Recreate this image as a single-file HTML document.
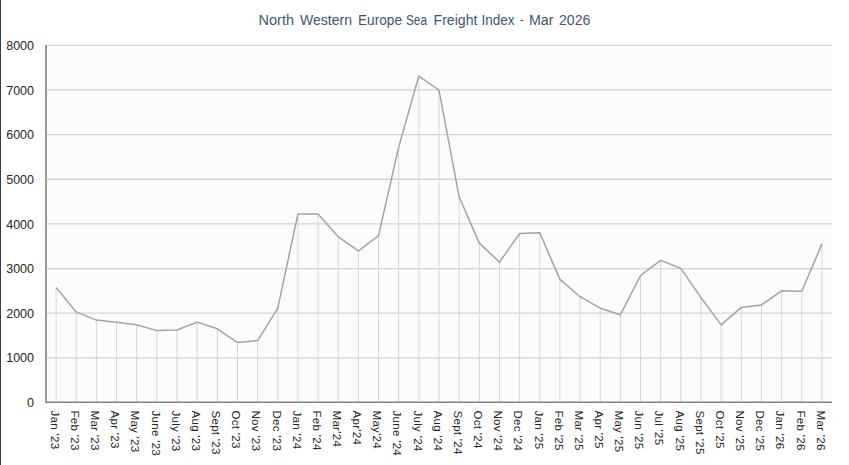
<!DOCTYPE html>
<html><head><meta charset="utf-8"><style>
html,body{margin:0;padding:0;background:#fff;}
body{width:849px;height:465px;overflow:hidden;position:relative;}
svg{position:absolute;left:0;top:0;}
.yl{font-family:"Liberation Sans",sans-serif;font-size:12.5px;fill:#262626;}
.xl{font-family:"Liberation Sans",sans-serif;font-size:11.5px;fill:#262626;letter-spacing:0.3px;}
.tt{font-family:"Liberation Sans",sans-serif;font-size:14px;fill:#44546a;}
</style></head><body>
<svg width="849" height="465" viewBox="0 0 849 465">
<rect x="0" y="0" width="1" height="465" fill="#3c3c3c"/>
<text x="258.50" y="25.3" class="tt" textLength="35.50" lengthAdjust="spacingAndGlyphs">North</text><text x="300.00" y="25.3" class="tt" textLength="52.00" lengthAdjust="spacingAndGlyphs">Western</text><text x="358.00" y="25.3" class="tt" textLength="44.00" lengthAdjust="spacingAndGlyphs">Europe</text><text x="406.00" y="25.3" class="tt" textLength="21.00" lengthAdjust="spacingAndGlyphs">Sea</text><text x="433.50" y="25.3" class="tt" textLength="44.00" lengthAdjust="spacingAndGlyphs">Freight</text><text x="481.50" y="25.3" class="tt" textLength="33.00" lengthAdjust="spacingAndGlyphs">Index</text><text x="520.00" y="25.3" class="tt" textLength="3.50" lengthAdjust="spacingAndGlyphs">-</text><text x="529.00" y="25.3" class="tt" textLength="24.50" lengthAdjust="spacingAndGlyphs">Mar</text><text x="559.00" y="25.3" class="tt" textLength="31.50" lengthAdjust="spacingAndGlyphs">2026</text>
<rect x="47" y="45" width="785" height="356" fill="#fcfcfc"/>
<line x1="46" y1="357.85" x2="832" y2="357.85" stroke="#d4d4d4" stroke-width="1.3"/>
<line x1="46" y1="313.20" x2="832" y2="313.20" stroke="#d4d4d4" stroke-width="1.3"/>
<line x1="46" y1="268.55" x2="832" y2="268.55" stroke="#d4d4d4" stroke-width="1.3"/>
<line x1="46" y1="223.90" x2="832" y2="223.90" stroke="#d4d4d4" stroke-width="1.3"/>
<line x1="46" y1="179.25" x2="832" y2="179.25" stroke="#d4d4d4" stroke-width="1.3"/>
<line x1="46" y1="134.60" x2="832" y2="134.60" stroke="#d4d4d4" stroke-width="1.3"/>
<line x1="46" y1="89.95" x2="832" y2="89.95" stroke="#d4d4d4" stroke-width="1.3"/>
<line x1="46" y1="45.30" x2="832" y2="45.30" stroke="#d4d4d4" stroke-width="1.3"/>
<line x1="56.08" y1="287.40" x2="56.08" y2="402.5" stroke="#d6d6d6" stroke-width="1"/>
<line x1="76.23" y1="311.90" x2="76.23" y2="402.5" stroke="#d6d6d6" stroke-width="1"/>
<line x1="96.38" y1="320.10" x2="96.38" y2="402.5" stroke="#d6d6d6" stroke-width="1"/>
<line x1="116.54" y1="322.20" x2="116.54" y2="402.5" stroke="#d6d6d6" stroke-width="1"/>
<line x1="136.69" y1="324.80" x2="136.69" y2="402.5" stroke="#d6d6d6" stroke-width="1"/>
<line x1="156.85" y1="330.60" x2="156.85" y2="402.5" stroke="#d6d6d6" stroke-width="1"/>
<line x1="177.00" y1="330.00" x2="177.00" y2="402.5" stroke="#d6d6d6" stroke-width="1"/>
<line x1="197.15" y1="322.10" x2="197.15" y2="402.5" stroke="#d6d6d6" stroke-width="1"/>
<line x1="217.31" y1="328.80" x2="217.31" y2="402.5" stroke="#d6d6d6" stroke-width="1"/>
<line x1="237.46" y1="342.60" x2="237.46" y2="402.5" stroke="#d6d6d6" stroke-width="1"/>
<line x1="257.62" y1="340.60" x2="257.62" y2="402.5" stroke="#d6d6d6" stroke-width="1"/>
<line x1="277.77" y1="308.10" x2="277.77" y2="402.5" stroke="#d6d6d6" stroke-width="1"/>
<line x1="297.92" y1="214.00" x2="297.92" y2="402.5" stroke="#d6d6d6" stroke-width="1"/>
<line x1="318.08" y1="214.00" x2="318.08" y2="402.5" stroke="#d6d6d6" stroke-width="1"/>
<line x1="338.23" y1="236.80" x2="338.23" y2="402.5" stroke="#d6d6d6" stroke-width="1"/>
<line x1="358.38" y1="250.80" x2="358.38" y2="402.5" stroke="#d6d6d6" stroke-width="1"/>
<line x1="378.54" y1="235.60" x2="378.54" y2="402.5" stroke="#d6d6d6" stroke-width="1"/>
<line x1="398.69" y1="147.10" x2="398.69" y2="402.5" stroke="#d6d6d6" stroke-width="1"/>
<line x1="418.85" y1="76.00" x2="418.85" y2="402.5" stroke="#d6d6d6" stroke-width="1"/>
<line x1="439.00" y1="90.10" x2="439.00" y2="402.5" stroke="#d6d6d6" stroke-width="1"/>
<line x1="459.15" y1="196.90" x2="459.15" y2="402.5" stroke="#d6d6d6" stroke-width="1"/>
<line x1="479.31" y1="243.10" x2="479.31" y2="402.5" stroke="#d6d6d6" stroke-width="1"/>
<line x1="499.46" y1="262.20" x2="499.46" y2="402.5" stroke="#d6d6d6" stroke-width="1"/>
<line x1="519.62" y1="233.50" x2="519.62" y2="402.5" stroke="#d6d6d6" stroke-width="1"/>
<line x1="539.77" y1="232.80" x2="539.77" y2="402.5" stroke="#d6d6d6" stroke-width="1"/>
<line x1="559.92" y1="279.40" x2="559.92" y2="402.5" stroke="#d6d6d6" stroke-width="1"/>
<line x1="580.08" y1="296.70" x2="580.08" y2="402.5" stroke="#d6d6d6" stroke-width="1"/>
<line x1="600.23" y1="308.20" x2="600.23" y2="402.5" stroke="#d6d6d6" stroke-width="1"/>
<line x1="620.38" y1="314.80" x2="620.38" y2="402.5" stroke="#d6d6d6" stroke-width="1"/>
<line x1="640.54" y1="275.50" x2="640.54" y2="402.5" stroke="#d6d6d6" stroke-width="1"/>
<line x1="660.69" y1="260.40" x2="660.69" y2="402.5" stroke="#d6d6d6" stroke-width="1"/>
<line x1="680.85" y1="268.30" x2="680.85" y2="402.5" stroke="#d6d6d6" stroke-width="1"/>
<line x1="701.00" y1="297.70" x2="701.00" y2="402.5" stroke="#d6d6d6" stroke-width="1"/>
<line x1="721.15" y1="324.90" x2="721.15" y2="402.5" stroke="#d6d6d6" stroke-width="1"/>
<line x1="741.31" y1="307.40" x2="741.31" y2="402.5" stroke="#d6d6d6" stroke-width="1"/>
<line x1="761.46" y1="304.90" x2="761.46" y2="402.5" stroke="#d6d6d6" stroke-width="1"/>
<line x1="781.62" y1="290.80" x2="781.62" y2="402.5" stroke="#d6d6d6" stroke-width="1"/>
<line x1="801.77" y1="291.20" x2="801.77" y2="402.5" stroke="#d6d6d6" stroke-width="1"/>
<line x1="821.92" y1="243.90" x2="821.92" y2="402.5" stroke="#d6d6d6" stroke-width="1"/>
<polyline points="56.08,287.40 76.23,311.90 96.38,320.10 116.54,322.20 136.69,324.80 156.85,330.60 177.00,330.00 197.15,322.10 217.31,328.80 237.46,342.60 257.62,340.60 277.77,308.10 297.92,214.00 318.08,214.00 338.23,236.80 358.38,250.80 378.54,235.60 398.69,147.10 418.85,76.00 439.00,90.10 459.15,196.90 479.31,243.10 499.46,262.20 519.62,233.50 539.77,232.80 559.92,279.40 580.08,296.70 600.23,308.20 620.38,314.80 640.54,275.50 660.69,260.40 680.85,268.30 701.00,297.70 721.15,324.90 741.31,307.40 761.46,304.90 781.62,290.80 801.77,291.20 821.92,243.90" fill="none" stroke="#a3a3a3" stroke-width="1.5" stroke-linejoin="round"/>
<line x1="46" y1="45" x2="46" y2="403" stroke="#9a9a9a" stroke-width="2"/>
<line x1="45" y1="402.3" x2="832" y2="402.3" stroke="#808080" stroke-width="1.4"/>
<text x="34" y="407.10" text-anchor="end" class="yl">0</text>
<text x="34" y="362.45" text-anchor="end" class="yl">1000</text>
<text x="34" y="317.80" text-anchor="end" class="yl">2000</text>
<text x="34" y="273.15" text-anchor="end" class="yl">3000</text>
<text x="34" y="228.50" text-anchor="end" class="yl">4000</text>
<text x="34" y="183.85" text-anchor="end" class="yl">5000</text>
<text x="34" y="139.20" text-anchor="end" class="yl">6000</text>
<text x="34" y="94.55" text-anchor="end" class="yl">7000</text>
<text x="34" y="49.90" text-anchor="end" class="yl">8000</text>
<text transform="translate(50.88,410.5) rotate(90)" class="xl">Jan '23</text>
<text transform="translate(71.03,410.5) rotate(90)" class="xl">Feb '23</text>
<text transform="translate(91.18,410.5) rotate(90)" class="xl">Mar '23</text>
<text transform="translate(111.34,410.5) rotate(90)" class="xl">Apr '23</text>
<text transform="translate(131.49,410.5) rotate(90)" class="xl">May '23</text>
<text transform="translate(151.65,410.5) rotate(90)" class="xl">June '23</text>
<text transform="translate(171.80,410.5) rotate(90)" class="xl">July '23</text>
<text transform="translate(191.95,410.5) rotate(90)" class="xl">Aug '23</text>
<text transform="translate(212.11,410.5) rotate(90)" class="xl">Sept '23</text>
<text transform="translate(232.26,410.5) rotate(90)" class="xl">Oct '23</text>
<text transform="translate(252.42,410.5) rotate(90)" class="xl">Nov '23</text>
<text transform="translate(272.57,410.5) rotate(90)" class="xl">Dec '23</text>
<text transform="translate(292.72,410.5) rotate(90)" class="xl">Jan '24</text>
<text transform="translate(312.88,410.5) rotate(90)" class="xl">Feb '24</text>
<text transform="translate(333.03,410.5) rotate(90)" class="xl">Mar'24</text>
<text transform="translate(353.18,410.5) rotate(90)" class="xl">Apr'24</text>
<text transform="translate(373.34,410.5) rotate(90)" class="xl">May'24</text>
<text transform="translate(393.49,410.5) rotate(90)" class="xl">June '24</text>
<text transform="translate(413.65,410.5) rotate(90)" class="xl">July '24</text>
<text transform="translate(433.80,410.5) rotate(90)" class="xl">Aug '24</text>
<text transform="translate(453.95,410.5) rotate(90)" class="xl">Sept '24</text>
<text transform="translate(474.11,410.5) rotate(90)" class="xl">Oct '24</text>
<text transform="translate(494.26,410.5) rotate(90)" class="xl">Nov '24</text>
<text transform="translate(514.42,410.5) rotate(90)" class="xl">Dec '24</text>
<text transform="translate(534.57,410.5) rotate(90)" class="xl">Jan '25</text>
<text transform="translate(554.72,410.5) rotate(90)" class="xl">Feb '25</text>
<text transform="translate(574.88,410.5) rotate(90)" class="xl">Mar '25</text>
<text transform="translate(595.03,410.5) rotate(90)" class="xl">Apr '25</text>
<text transform="translate(615.18,410.5) rotate(90)" class="xl">May '25</text>
<text transform="translate(635.34,410.5) rotate(90)" class="xl">Jun '25</text>
<text transform="translate(655.49,410.5) rotate(90)" class="xl">Jul '25</text>
<text transform="translate(675.65,410.5) rotate(90)" class="xl">Aug '25</text>
<text transform="translate(695.80,410.5) rotate(90)" class="xl">Sept '25</text>
<text transform="translate(715.95,410.5) rotate(90)" class="xl">Oct '25</text>
<text transform="translate(736.11,410.5) rotate(90)" class="xl">Nov '25</text>
<text transform="translate(756.26,410.5) rotate(90)" class="xl">Dec '25</text>
<text transform="translate(776.42,410.5) rotate(90)" class="xl">Jan '26</text>
<text transform="translate(796.57,410.5) rotate(90)" class="xl">Feb '26</text>
<text transform="translate(816.72,410.5) rotate(90)" class="xl">Mar '26</text>
</svg>
</body></html>
